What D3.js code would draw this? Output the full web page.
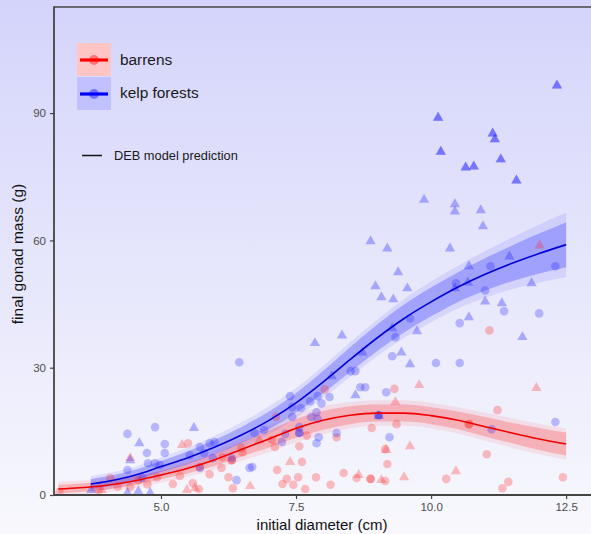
<!DOCTYPE html>
<html>
<head>
<meta charset="utf-8">
<script src="https://cdn.jsdelivr.net/npm/d3@7"></script>
<style>
  html, body { margin: 0; padding: 0; background: #fff; }
  svg { display: block; font-family: "Liberation Sans", Arial, sans-serif; }
</style>
</head>
<body>
<svg id="chart" width="591" height="534"></svg>
<script>
// ---- DEB model predictions (final gonad mass, g) with 50% and 95% bands ----
const barrensDiameter = [3.1, 3.5, 4.0, 4.5, 5.0, 5.5, 6.0, 6.5, 7.0, 7.5, 8.0, 8.5, 9.0, 9.5, 10.0, 10.5, 11.0, 11.5, 12.0, 12.5];
const barrensFit      = [1.4, 1.7, 2.3, 3.3, 4.7, 6.3, 8.3, 10.8, 13.2, 15.7, 17.6, 18.8, 19.3, 19.3, 18.7, 17.6, 16.1, 14.6, 13.2, 12.0];
const barrensInnerHW  = [1.0, 1.0, 1.0, 1.0, 1.0, 1.2, 1.4, 1.7, 2.0, 2.2, 2.2, 2.1, 2.0, 2.0, 2.0, 2.1, 2.3, 2.4, 2.6, 2.7];
const barrensOuterHW  = [1.7, 1.7, 1.7, 1.7, 1.8, 2.0, 2.3, 2.7, 3.1, 3.3, 3.3, 3.1, 3.0, 3.0, 3.0, 3.1, 3.3, 3.5, 3.6, 3.7];

const kelpDiameter = [3.7, 4.0, 4.5, 5.0, 5.5, 6.0, 6.5, 7.0, 7.5, 8.0, 8.5, 9.0, 9.5, 10.0, 10.5, 11.0, 11.5, 12.0, 12.5];
const kelpFit      = [2.6, 3.2, 4.6, 6.7, 8.8, 11.3, 14.2, 17.6, 21.7, 26.6, 31.9, 37.0, 41.6, 45.5, 49.0, 52.0, 54.6, 56.9, 59.0];
const kelpInnerHW  = [1.2, 1.2, 1.3, 1.3, 1.5, 1.7, 1.9, 2.1, 2.3, 2.6, 2.9, 3.1, 3.3, 3.4, 3.5, 3.8, 4.2, 4.7, 5.3];
const kelpOuterHW  = [1.9, 1.9, 2.0, 2.2, 2.4, 2.7, 3.0, 3.3, 3.5, 3.8, 4.1, 4.3, 4.6, 4.8, 5.0, 5.5, 6.1, 6.8, 7.6];

// ---- observed urchins: [initial diameter (cm), final gonad mass (g)] ----
const barrensCircles = [
  [3.12, 0.7], [3.85, 1.2], [4.06, 4.0], [4.20, 2.0], [4.43, 1.9], [4.58, 3.5], [4.75, 2.5],
  [4.93, 4.2], [5.22, 2.6], [5.35, 4.5], [5.50, 12.2], [5.59, 2.8], [5.70, 1.4], [5.72, 6.6],
  [5.90, 4.9], [6.12, 6.4], [6.14, 8.9], [6.25, 4.2], [6.33, 1.6], [6.31, 8.2], [6.31, 8.2],
  [6.49, 11.1], [6.51, 10.1], [7.13, 18.4], [7.05, 13.0], [7.11, 11.3], [7.56, 11.5], [7.70, 14.0],
  [7.15, 5.9], [7.33, 3.8], [7.25, 2.6], [7.45, 2.4], [7.54, 4.2], [7.61, 7.8], [7.67, 1.4],
  [7.87, 4.2], [8.03, 24.9], [8.14, 2.4], [8.25, 13.6], [8.38, 5.2], [8.62, 4.0], [8.88, 3.8],
  [8.88, 3.8], [8.90, 15.8], [9.15, 3.3], [9.15, 10.8], [9.19, 7.3], [9.32, 25.0], [9.36, 16.7],
  [10.28, 3.8], [10.70, 16.7], [10.70, 16.7], [11.03, 9.6], [11.08, 38.8], [11.23, 20.0],
  [11.32, 1.6], [11.43, 3.1], [12.44, 4.2]
];
const barrensTriangles = [
  [3.90, 1.2], [4.43, 8.7], [5.39, 11.8], [5.63, 1.6], [5.48, 1.2], [6.65, 2.1], [6.82, 12.9],
  [7.39, 7.8], [8.66, 4.7], [9.08, 3.5], [9.17, 10.6], [9.34, 21.9], [9.50, 4.2], [9.61, 11.5],
  [9.78, 25.9], [10.46, 5.6], [11.95, 25.2], [12.01, 58.8]
];
const kelpCircles = [
  [4.38, 14.4], [4.89, 16.0], [4.74, 9.9], [5.07, 12.0], [5.07, 9.9], [4.76, 7.5], [4.89, 7.5],
  [4.98, 7.1], [4.38, 5.9], [4.65, 4.0], [5.72, 11.3], [5.99, 12.5], [5.90, 12.2], [5.53, 9.4],
  [5.80, 9.9], [5.96, 8.7], [6.31, 8.7], [6.40, 3.5], [5.72, 6.4], [6.64, 6.4], [6.69, 6.6],
  [6.45, 31.3], [6.73, 14.6], [6.91, 15.3], [7.24, 12.5], [7.30, 14.4], [7.39, 23.3], [7.43, 20.7],
  [7.59, 20.5], [7.43, 18.4], [7.56, 16.0], [7.56, 14.6], [7.56, 14.6], [7.78, 18.4], [7.76, 22.1],
  [7.88, 19.5], [7.90, 17.9], [7.90, 23.3], [7.97, 21.6], [7.92, 13.6], [7.88, 12.2], [8.12, 23.1],
  [8.25, 14.6], [8.51, 29.2], [8.60, 29.2], [8.69, 25.4], [8.78, 25.4], [9.03, 18.8], [9.03, 18.8],
  [9.17, 24.2], [9.23, 13.6], [9.28, 32.7], [9.34, 37.2], [9.61, 41.6], [10.09, 31.1], [10.53, 31.1],
  [10.53, 40.5], [10.46, 49.9], [11.00, 48.2], [11.10, 53.9], [11.35, 43.3], [12.00, 42.8],
  [11.12, 15.5], [12.30, 17.2], [12.30, 53.9]
];
const kelpTriangles = [
  [3.71, 1.2], [4.38, 0.5], [4.80, 0.5], [4.58, 0.9], [4.60, 12.2], [4.43, 8.2], [5.61, 15.8],
  [7.85, 35.8], [8.16, 28.0], [8.35, 37.6], [8.60, 23.5], [8.73, 33.6], [8.88, 59.8], [8.97, 49.2],
  [9.03, 18.6], [9.08, 46.6], [9.19, 58.1], [9.28, 39.3], [9.30, 46.1], [9.39, 52.5], [9.45, 33.6],
  [9.56, 48.7], [9.61, 30.8], [9.74, 38.6], [9.87, 69.6], [10.35, 58.1], [10.44, 68.5], [10.44, 66.8],
  [10.44, 48.7], [10.68, 50.1], [10.70, 53.9], [10.70, 41.9], [10.92, 67.1], [10.96, 63.3],
  [11.00, 45.6], [11.31, 45.2], [11.45, 56.2], [11.69, 37.2], [11.86, 49.9],
  // heavy, repeated observations
  [10.13, 88.9], [10.13, 88.9], [11.14, 85.2], [11.14, 85.2], [11.18, 83.8], [11.18, 83.8],
  [10.18, 80.9], [10.18, 80.9], [10.64, 77.2], [10.64, 77.2], [10.79, 77.4], [10.79, 77.4],
  [11.29, 79.1], [11.29, 79.1], [11.58, 74.1], [11.58, 74.1], [12.33, 96.5], [12.33, 96.5]
];

const xTicks = [5.0, 7.5, 10.0, 12.5];
const yTicks = [0, 30, 60, 90];
const legendGroups = ["barrens", "kelp forests"];
const modelLabel = "DEB model prediction";
const xTitle = "initial diameter (cm)";
const yTitle = "final gonad mass (g)";

// ---- layout ----
const W = 591, H = 534;
const padLeft = 54, padTop = 7, axisY = 495;
const svg = d3.select("#chart");

const defs = svg.append("defs");
const grad = defs.append("linearGradient").attr("id", "bg")
  .attr("x1", 0).attr("y1", 0).attr("x2", 0).attr("y2", 1);
grad.append("stop").attr("offset", "0%").attr("stop-color", "#d4d4fb");
grad.append("stop").attr("offset", "100%").attr("stop-color", "#f8f8fd");
svg.append("rect").attr("width", W).attr("height", H).attr("fill", "url(#bg)");

const x = d3.scaleLinear().domain([3.02, 12.96]).range([padLeft, W]);
const y = d3.scaleLinear().domain([0, 115]).range([axisY, padTop]);

defs.append("clipPath").attr("id", "clip").append("rect")
  .attr("x", padLeft).attr("y", padTop).attr("width", W - padLeft).attr("height", axisY - padTop);
const panel = svg.append("g").attr("clip-path", "url(#clip)");

// ---- bands ----
function bandArea(xs, fit, hw) {
  const rows = xs.map((d, i) => ({ x: d, lo: fit[i] - hw[i], hi: fit[i] + hw[i] }));
  return d3.area().curve(d3.curveMonotoneX)
    .x(d => x(d.x)).y0(d => y(d.lo)).y1(d => y(d.hi))(rows);
}
function fitLine(xs, fit) {
  return d3.line().curve(d3.curveMonotoneX)
    .x((d, i) => x(xs[i])).y(d => y(d))(fit);
}

panel.append("path").attr("d", bandArea(barrensDiameter, barrensFit, barrensOuterHW))
  .attr("fill", "rgb(255,60,60)").attr("fill-opacity", 0.1);
panel.append("path").attr("d", bandArea(barrensDiameter, barrensFit, barrensInnerHW))
  .attr("fill", "rgb(255,40,40)").attr("fill-opacity", 0.25);
panel.append("path").attr("d", bandArea(kelpDiameter, kelpFit, kelpOuterHW))
  .attr("fill", "rgb(40,40,255)").attr("fill-opacity", 0.1);
panel.append("path").attr("d", bandArea(kelpDiameter, kelpFit, kelpInnerHW))
  .attr("fill", "rgb(20,20,255)").attr("fill-opacity", 0.26);

// ---- observations ----
const circleSym = d3.symbol().type(d3.symbolCircle).size(58);
const triSym = d3.symbol().type(d3.symbolTriangle).size(46);
function drawPoints(data, sym, color, op) {
  panel.append("g").selectAll("path").data(data).join("path")
    .attr("d", sym)
    .attr("transform", d => `translate(${x(d[0])},${y(d[1])})`)
    .attr("fill", color).attr("fill-opacity", op);
}
drawPoints(barrensCircles, circleSym, "#ff2020", 0.28);
drawPoints(barrensTriangles, triSym, "#ff2020", 0.28);
drawPoints(kelpCircles, circleSym, "#2020ff", 0.28);
drawPoints(kelpTriangles, triSym, "#2020ff", 0.33);

// ---- model lines ----
panel.append("path").attr("d", fitLine(barrensDiameter, barrensFit))
  .attr("fill", "none").attr("stroke", "#f00000").attr("stroke-width", 1.6);
panel.append("path").attr("d", fitLine(kelpDiameter, kelpFit))
  .attr("fill", "none").attr("stroke", "#0000d8").attr("stroke-width", 1.6);

// ---- axes ----
const axisColor = "#444";
const xAxis = svg.append("g").attr("transform", `translate(0,${axisY})`)
  .call(d3.axisBottom(x).tickValues(xTicks).tickFormat(d3.format(".1f")).tickSize(4).tickSizeOuter(0).tickPadding(4));
const yAxis = svg.append("g").attr("transform", `translate(${padLeft},0)`)
  .call(d3.axisLeft(y).tickValues(yTicks).tickFormat(d3.format("d")).tickSize(4).tickSizeOuter(0).tickPadding(4));
[xAxis, yAxis].forEach(a => {
  a.select(".domain").remove();
  a.selectAll(".tick line").attr("stroke", axisColor).attr("stroke-width", 1.2);
  a.selectAll(".tick text").attr("fill", "#4d4d4d").attr("font-size", 11.5)
    .attr("font-family", "'Liberation Sans', Arial, sans-serif");
});
svg.append("line").attr("x1", padLeft).attr("x2", W).attr("y1", axisY).attr("y2", axisY)
  .attr("stroke", axisColor).attr("stroke-width", 1.8);
svg.append("line").attr("x1", padLeft).attr("x2", W).attr("y1", padTop).attr("y2", padTop)
  .attr("stroke", axisColor).attr("stroke-width", 1.6);
svg.append("line").attr("x1", padLeft).attr("x2", padLeft).attr("y1", padTop - 0.8).attr("y2", axisY + 0.9)
  .attr("stroke", axisColor).attr("stroke-width", 1.8);

svg.append("text").attr("x", 322).attr("y", 530).attr("text-anchor", "middle")
  .attr("font-size", 15).attr("fill", "#111").text(xTitle);
svg.append("text").attr("transform", "translate(23,254) rotate(-90)").attr("text-anchor", "middle")
  .attr("font-size", 15.5).attr("fill", "#111").text(yTitle);

// ---- legend ----
const keyFill = ["#ffc4c4", "#c1c1ff"];
const keyColor = ["#ff0000", "#0000ff"];
const leg = svg.append("g");
legendGroups.forEach((name, i) => {
  const ky = 43 + i * 34;
  leg.append("rect").attr("x", 77).attr("y", ky).attr("width", 34).attr("height", 33)
    .attr("fill", keyFill[i]);
  leg.append("line").attr("x1", 80).attr("x2", 108).attr("y1", ky + 17).attr("y2", ky + 17)
    .attr("stroke", keyColor[i]).attr("stroke-width", 3.2);
  leg.append("circle").attr("cx", 94).attr("cy", ky + 17).attr("r", 5)
    .attr("fill", keyColor[i]).attr("fill-opacity", 0.4);
  leg.append("text").attr("x", 120).attr("y", 65 + i * 32.5).attr("font-size", 15.4)
    .attr("fill", "#1a1a1a").text(name);
});
leg.append("line").attr("x1", 82).attr("x2", 102).attr("y1", 155.5).attr("y2", 155.5)
  .attr("stroke", "#111").attr("stroke-width", 1.5);
leg.append("text").attr("x", 114).attr("y", 160).attr("font-size", 12.8)
  .attr("fill", "#1a1a1a").text(modelLabel);
</script>
</body>
</html>
